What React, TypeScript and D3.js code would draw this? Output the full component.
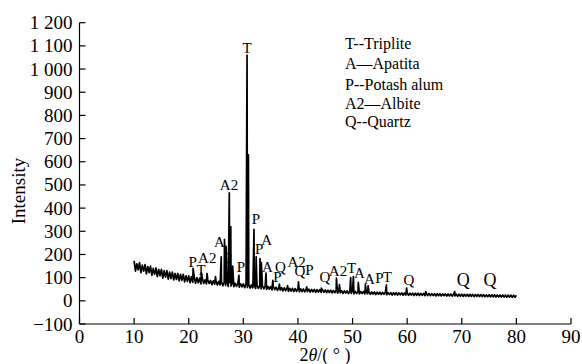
import React from "react";
import * as d3 from "d3";

// XRD scan: intensities sampled every 0.25° from 10°
const scanStart = 10;
const scanStep = 0.25;
const scanCounts: number[] = [
  172, 128, 160, 134, 165, 122, 154, 128, 156, 116, 148, 122, 150, 110, 140, 114,
  142, 104, 136, 108, 136, 98, 130, 102, 130, 94, 124, 96, 124, 90, 118, 92,
  118, 86, 114, 88, 114, 82, 108, 84, 108, 78, 104, 80, 104, 76, 100, 78,
  98, 73, 96, 75, 91, 73, 90, 75, 88, 70, 86, 72, 85, 68, 84, 69,
  82, 65, 80, 66, 80, 62, 79, 64, 77, 61, 76, 62, 75, 59, 74, 60,
  73, 57, 72, 58, 70, 55, 69, 56, 68, 53, 67, 54, 65, 51, 64, 52,
  63, 49, 62, 50, 61, 47, 60, 48, 59, 45, 58, 46, 57, 43, 56, 44,
  55, 41, 54, 42, 54, 40, 53, 41, 53, 39, 52, 40, 51, 39, 50, 40,
  50, 38, 49, 39, 49, 37, 48, 38, 48, 36, 47, 37, 47, 35, 46, 36,
  46, 34, 45, 35, 45, 33, 44, 34, 44, 32, 43, 33, 43, 31, 42, 32,
  42, 30, 41, 31, 41, 30, 40, 31, 40, 29, 39, 30, 39, 28, 38, 29,
  38, 27, 37, 28, 37, 27, 36, 28, 36, 26, 35, 27, 35, 25, 35, 26,
  35, 25, 34, 26, 34, 24, 34, 25, 34, 24, 33, 25, 33, 23, 33, 24,
  33, 23, 32, 24, 32, 22, 32, 23, 32, 22, 31, 23, 31, 21, 31, 22,
  31, 21, 30, 22, 30, 20, 30, 21, 30, 20, 29, 21, 29, 19, 29, 20,
  29, 19, 28, 20, 28, 19, 28, 19, 28, 18, 27, 19, 27, 18, 27, 18,
  27, 17, 26, 18, 26, 17, 26, 17, 26, 16, 25, 17, 25, 16, 25, 16,
  25, 15, 24, 16, 24, 15, 24, 15, 24,
];

// Diffraction peaks: [2θ, intensity]
const peaks: [number, number][] = [
  [20.8, 140], [22.3, 122], [23.35, 118], [24.9, 105], [25.95, 190],
  [26.55, 265], [26.85, 235], [27.43, 466], [27.7, 320], [28.05, 150],
  [29.2, 110], [30.68, 1060], [30.93, 630], [31.95, 308], [32.35, 190],
  [33.05, 182], [33.3, 165], [34.15, 120], [35.4, 88], [36.6, 72],
  [38.1, 66], [40.1, 82], [41.6, 60], [44.3, 55], [47.05, 98],
  [47.6, 70], [49.65, 100], [50.15, 104], [51.05, 80], [52.35, 70],
  [52.85, 65], [56.2, 68], [59.9, 55], [63.4, 40], [68.7, 40],
];

// Phase labels: [text, 2θ, intensity at label baseline]
const phaseLabels: [string, number, number][] = [
  ["T", 30.67, 1069], ["A2", 27.38, 480], ["P", 32.32, 331], ["A", 34.28, 241],
  ["P", 32.92, 200], ["A", 25.6, 234], ["P", 27.19, 165], ["P", 20.73, 148],
  ["A2", 23.4, 165], ["T", 22.25, 111], ["P", 29.57, 124], ["A", 34.39, 124],
  ["Q", 36.77, 124], ["A2", 39.77, 148], ["P", 36.22, 81], ["Q", 40.38, 105],
  ["P", 42.08, 111], ["Q", 44.96, 83], ["A2", 47.34, 105], ["T", 49.84, 120],
  ["A", 51.24, 100], ["A", 53.07, 72], ["P", 54.9, 77], ["T", 56.36, 81],
  ["Q", 60.34, 70],
];
const highAngleQuartz: [string, number, number][] = [
  ["Q", 70.28, 66], ["Q", 75.17, 66],
];

const legendItems = ["T--Triplite", "A\u2014Apatita", "P--Potash alum", "A2\u2014Albite", "Q--Quartz"];

const xTicks = [0, 10, 20, 30, 40, 50, 60, 70, 80, 90];
const yTicks = [-100, 0, 100, 200, 300, 400, 500, 600, 700, 800, 900, 1000, 1100, 1200];

function fmtY(v: number): string {
  if (v < 0) return "\u2212" + Math.abs(v);
  if (v >= 1000) return `${Math.floor(v / 1000)} ${String(v % 1000).padStart(3, "0")}`;
  return String(v);
}

export default function App() {
  const W = 582, H = 364;
  const font = "'Liberation Serif', 'Times New Roman', serif";
  const x = d3.scaleLinear().domain([0, 90]).range([79.5, 571]);
  const y = d3.scaleLinear().domain([-100, 1200]).range([324, 22.7]);

  const pts: [number, number][] = [
    ...scanCounts.map((v, i) => [scanStart + i * scanStep, v] as [number, number]),
    ...peaks,
  ].sort((a, b) => a[0] - b[0]);

  const line = d3.line<[number, number]>().x((d) => x(d[0])).y((d) => y(d[1]));

  const x0 = x(0), y0 = y(-100);
  const legendY = [49, 69, 90, 109, 127];

  return (
    <svg width={W} height={H} style={{ position: "absolute", left: 0, top: 0, background: "#fff" }} fontFamily={font}>
      {phaseLabels.map(([t, th, v], i) => (
        <text key={"l" + i} x={x(th)} y={y(v)} fontSize={15} textAnchor="middle" fill="#000">{t}</text>
      ))}
      {highAngleQuartz.map(([t, th, v], i) => (
        <text key={"q" + i} x={x(th)} y={y(v)} fontSize={18} textAnchor="middle" fill="#000">{t}</text>
      ))}
      <path d={line(pts) || ""} fill="none" stroke="#000" strokeWidth={1.7} strokeLinejoin="round" />
      <line x1={x0} y1={y(1200)} x2={x0} y2={y0} stroke="#000" strokeWidth={1.2} />
      <line x1={x0} y1={y0} x2={x(90)} y2={y0} stroke="#000" strokeWidth={1.2} />
      {yTicks.map((t) => (
        <g key={"y" + t}>
          <line x1={x0} x2={x0 + 6} y1={y(t)} y2={y(t)} stroke="#000" strokeWidth={1.2} />
          <text x={x0 - 7} y={y(t) + 6.5} fontSize={19} textAnchor="end" fill="#000">{fmtY(t)}</text>
        </g>
      ))}
      {xTicks.map((t) => (
        <g key={"x" + t}>
          <line x1={x(t)} x2={x(t)} y1={y0} y2={y0 - 6} stroke="#000" strokeWidth={1.2} />
          <text x={x(t)} y={343} fontSize={19} textAnchor="middle" fill="#000">{t}</text>
        </g>
      ))}
      <text transform={`translate(25,191) rotate(-90)`} fontSize={19} textAnchor="middle" fill="#000">Intensity</text>
      <text x={325} y={361} fontSize={18} textAnchor="middle" fill="#000">
        2<tspan fontStyle="italic">θ</tspan>/( ° )
      </text>
      {legendItems.map((s, i) => (
        <text key={"g" + i} x={345} y={legendY[i]} fontSize={16} fill="#000">{s}</text>
      ))}
    </svg>
  );
}
